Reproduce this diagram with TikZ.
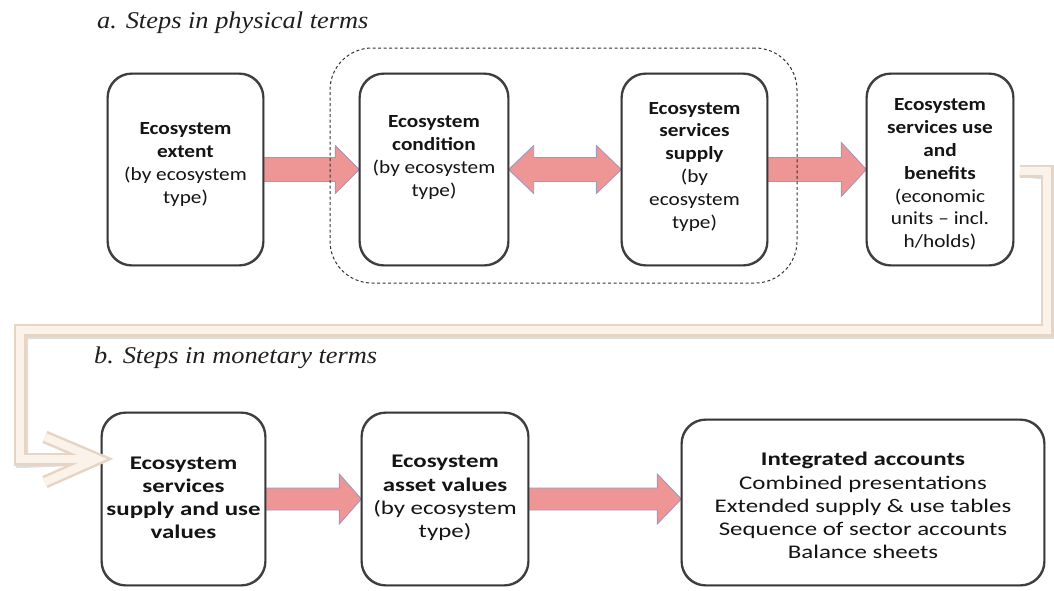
\documentclass[tikz,border=0pt]{standalone}
\usepackage{fontspec}
\setmainfont{Carlito}
\newfontfamily\topfont[FakeStretch=1.15]{Carlito}
\newfontfamily\botfont[FakeStretch=1.29]{Carlito}
\newfontfamily\titlefont[FakeStretch=1.1]{Liberation Serif}
\usetikzlibrary{calc}

\definecolor{boxline}{RGB}{55,55,55}
\definecolor{arrowfill}{RGB}{238,150,150}
\definecolor{arrowedge}{RGB}{160,150,190}
\definecolor{bandedge}{RGB}{230,212,196}
\definecolor{bandfill}{RGB}{251,242,233}
\definecolor{bandshadow}{RGB}{200,200,200}

% horizontal block arrow between two anchors: from, to, shaft half-height, head half-height, head length
\newcommand\fatarrow[5]{%
  \path[fatarrowstyle] let \p1=(#1), \p2=(#2) in
    (\x1,\y1+#3) -- (\x2-#5,\y1+#3) -- (\x2-#5,\y1+#4) -- (\x2,\y1)
    -- (\x2-#5,\y1-#4) -- (\x2-#5,\y1-#3) -- (\x1,\y1-#3) -- cycle;}
% block arrow with a head at both ends
\newcommand\fatdoublearrow[5]{%
  \path[fatarrowstyle] let \p1=(#1), \p2=(#2) in
    (\x1,\y1) -- (\x1+#5,\y1+#4) -- (\x1+#5,\y1+#3) -- (\x2-#5,\y1+#3) -- (\x2-#5,\y1+#4) -- (\x2,\y1)
    -- (\x2-#5,\y1-#4) -- (\x2-#5,\y1-#3) -- (\x1+#5,\y1-#3) -- (\x1+#5,\y1-#4) -- cycle;}

\begin{document}
\begin{tikzpicture}[x=1pt,y=-1pt,
  stepbox/.style={draw=boxline, line width=1.4pt, rounded corners=24pt, fill=white, inner sep=0pt},
  toptext/.style={align=center, inner sep=0pt, font=\topfont\fontsize{18.5}{22.8}\selectfont, text=black!92},
  bottext/.style={align=center, inner sep=0pt, font=\botfont\fontsize{19.3}{23.2}\selectfont, text=black!92},
  titletext/.style={anchor=base west, inner sep=0pt, font=\titlefont\itshape\fontsize{24}{28}\selectfont, text=black!88},
  fatarrowstyle/.style={fill=arrowfill, draw=arrowedge, line width=0.9pt, line join=miter},
  groupbox/.style={draw=black!80, dashed, dash pattern=on 3pt off 2.5pt, line width=1pt, rounded corners=42pt, inner sep=0pt},
  boxshadow/.style={draw=black!35, line width=2pt, rounded corners=24pt, opacity=0.35},
  bandshadowstyle/.style={draw=bandshadow, line width=12pt, line join=miter, opacity=0.6},
  bandouter/.style={draw=bandedge, line width=13pt, line join=miter},
  bandinner/.style={draw=bandfill, line width=8pt, line join=miter}
]
\useasboundingbox (0,0) rectangle (1054,590);

% section titles
\node[titletext] (ttla) at (97,28) {a. Steps in physical terms};
\node[titletext] (ttlb) at (94,363) {b. Steps in monetary terms};

% box frames (physical row)
\path (185.5,169.5) node[stepbox, minimum width=155pt, minimum height=191pt] (box1) {};
\path (434,169.5)   node[stepbox, minimum width=148pt, minimum height=191pt] (box2) {};
\path (694.5,169.5) node[stepbox, minimum width=145pt, minimum height=191pt] (box3) {};
\path (940,169.5)   node[stepbox, minimum width=146pt, minimum height=191pt] (box4) {};
% box frames (monetary row)
\path (183.5,499)   node[stepbox, minimum width=163pt, minimum height=172pt] (box5) {};
\path (445,499)     node[stepbox, minimum width=166pt, minimum height=172pt] (box6) {};
\path (863,502.5)   node[stepbox, minimum width=362pt, minimum height=165pt] (box7) {};

% soft shadows under the frames
\foreach \b in {box1,box2,box3,box4,box5,box6,box7}
  \draw[boxshadow, shift={(1.2,2)}] (\b.south west) rectangle (\b.north east);

% block arrows
\fatarrow{box1.east}{box2.west}{12pt}{24pt}{24pt}
\fatdoublearrow{box2.east}{box3.west}{12pt}{24pt}{25pt}
\fatarrow{box3.east}{box4.west}{12pt}{27pt}{25pt}
\fatarrow{box5.east}{box6.west}{11pt}{25pt}{22pt}
\fatarrow{box6.east}{box7.west}{11pt}{25pt}{24pt}

% frames drawn over the arrow ends
\foreach \b in {box1,box2,box3,box4,box5,box6,box7}
  \draw[draw=boxline, line width=1.4pt, rounded corners=24pt]
    (\b.south west) rectangle (\b.north east);

% box texts
\node[toptext] (lbl1) at ($(box1.center)+(0,-5)$)
  {\textbf{Ecosystem}\\\textbf{extent}\\(by ecosystem\\type)};
\node[toptext] (lbl2) at ($(box2.center)+(0,-12)$)
  {\textbf{Ecosystem}\\\textbf{condition}\\(by ecosystem\\type)};
\node[toptext] (lbl3) at ($(box3.center)+(0,-3)$)
  {\textbf{Ecosystem}\\\textbf{services}\\\textbf{supply}\\(by\\ecosystem\\type)};
\node[toptext] (lbl4) at ($(box4.center)+(0,5)$)
  {\textbf{Ecosystem}\\\textbf{services use}\\\textbf{and}\\\textbf{benefits}\\(economic\\units – incl.\\h/holds)};
\node[bottext] (lbl5) at ($(box5.center)+(0,-1)$)
  {\textbf{Ecosystem}\\\textbf{services}\\\textbf{supply and use}\\\textbf{values}};
\node[bottext] (lbl6) at ($(box6.center)+(0,-1)$)
  {\textbf{Ecosystem}\\\textbf{asset values}\\(by ecosystem\\type)};
\node[bottext] (lbl7) at ($(box7.center)+(0,3)$)
  {\textbf{Integrated accounts}\\Combined presentations\\Extended supply \& use tables\\Sequence of sector accounts\\Balance sheets};

% dashed grouping of condition and supply
\path (563.5,165.5) node[groupbox, minimum width=467pt, minimum height=235pt] (grp) {};

% bent band leading from the physical row down to the monetary row
\coordinate (bandstart) at (1020,171);
\coordinate (bandend) at (97,459);
\coordinate (barbtop) at (45,437);
\coordinate (barbbot) at (45,482);
\draw[bandshadowstyle, shift={(2,3)}] (bandstart) -- (1047,171) -- (1047,330) -- (20,330) -- (20,459) -- (bandend);
\draw[bandshadowstyle, shift={(2,3)}] (barbtop) -- (bandend) -- (barbbot);
\draw[bandouter] (bandstart) -- (1047,171) -- (1047,330) -- (20,330) -- (20,459) -- (bandend);
\draw[bandouter] (barbtop) -- (bandend) -- (barbbot);
\draw[bandinner] (bandstart) -- (1047,171) -- (1047,330) -- (20,330) -- (20,459) -- (bandend);
\draw[bandinner] (barbtop) -- (bandend) -- (barbbot);
\end{tikzpicture}
\end{document}
